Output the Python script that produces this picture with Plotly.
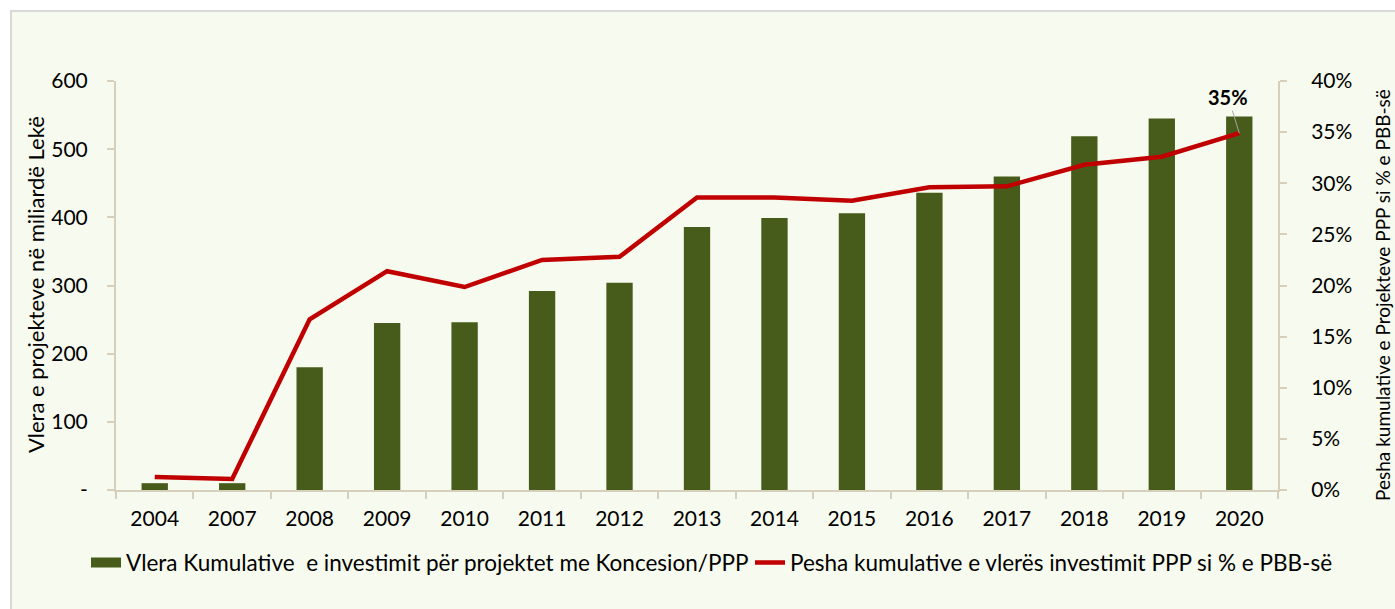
import plotly.graph_objects as go

years = ["2004", "2007", "2008", "2009", "2010", "2011", "2012", "2013",
         "2014", "2015", "2016", "2017", "2018", "2019", "2020"]
cum_value = [10, 10, 180, 245, 246, 292, 304, 386, 399, 406, 436, 460, 519, 545, 548]
pct_gdp = [0.0127, 0.0108, 0.167, 0.214, 0.1985, 0.225, 0.228, 0.286, 0.286,
           0.283, 0.296, 0.297, 0.318, 0.326, 0.349]
left_tickvals = [0, 100, 200, 300, 400, 500, 600]
left_ticktext = ["-", "100", "200", "300", "400", "500", "600"]
right_tickvals = [0, 0.05, 0.10, 0.15, 0.20, 0.25, 0.30, 0.35, 0.40]

bar_name = "Vlera Kumulative  e investimit për projektet me Koncesion/PPP"
line_name = "Pesha kumulative e vlerës investimit PPP si % e PBB-së"
left_title = "Vlera e projekteve në miliardë Lekë"
right_title = "Pesha kumulative e Projekteve PPP si % e PBB-së"

FONT = "Lato, 'Open Sans', sans-serif"
AXIS_COL = "#d6cfbb"
BG = "#f7faee"
BAR_COL = "#475c1b"

L, R, T, B = 116, 117, 81, 119
W, H = 1395, 609
pw, ph = W - L - R, H - T - B

fig = go.Figure()
fig.add_trace(go.Bar(x=years, y=cum_value, name=bar_name,
                     marker=dict(color=BAR_COL, line=dict(width=0)),
                     yaxis="y", showlegend=False))
# legend entry for the bars (wide swatch like the original)
fig.add_trace(go.Scatter(x=[years[0]], y=[None], name=bar_name, mode="lines",
                         line=dict(color=BAR_COL, width=16), yaxis="y",
                         hoverinfo="skip", legend="legend"))
fig.add_trace(go.Scatter(x=years, y=pct_gdp, name=line_name, mode="lines",
                         line=dict(color="#c00000", width=4.5),
                         yaxis="y2", legend="legend2"))

fig.add_annotation(x=len(years) - 1, y=pct_gdp[-1], yref="y2", xref="x",
                   text="<b>35%</b>", showarrow=True, arrowhead=0,
                   arrowwidth=1, arrowcolor="#a6a6a6", ax=-11, ay=-36,
                   font=dict(size=20, color="#000000", family=FONT))

# axis titles
fig.add_annotation(xref="paper", yref="paper", x=(35 - L) / pw, y=0.501,
                   text=left_title, textangle=-90, showarrow=False,
                   xanchor="center", yanchor="middle",
                   font=dict(size=22, family=FONT, color="#000000"))
fig.add_annotation(xref="paper", yref="paper", x=(1383 - L) / pw, y=0.477,
                   text=right_title, textangle=-90, showarrow=False,
                   xanchor="center", yanchor="middle",
                   font=dict(size=19, family=FONT, color="#000000"))

# outer frame / background
fig.add_shape(type="rect", xref="paper", yref="paper",
              x0=(11 - L) / pw, x1=(1400 - L) / pw,
              y0=(H - B - 620) / ph, y1=(H - B - 11) / ph,
              fillcolor=BG, line=dict(color="#d9d9d9", width=2), layer="below")

leg_common = dict(orientation="h", xref="container", xanchor="left",
                  y=-0.178, yanchor="middle", bgcolor="rgba(0,0,0,0)",
                  font=dict(size=22.5, family=FONT, color="#000000"))

fig.update_layout(
    width=W, height=H,
    margin=dict(l=L, r=R, t=T, b=B, pad=0, autoexpand=False),
    paper_bgcolor="white", plot_bgcolor="white",
    font=dict(family=FONT, size=21, color="#000000"),
    bargap=0.66,
    showlegend=True,
    legend=dict(x=86 / W, **leg_common),
    legend2=dict(x=750 / W, **leg_common),
    xaxis=dict(type="category", range=[-0.5, len(years) - 0.5], automargin=False,
               showline=True, linecolor=AXIS_COL, linewidth=2,
               ticks="outside", tickson="boundaries", ticklen=7, tickcolor=AXIS_COL,
               tickwidth=2, showgrid=False, tickangle=0, tickfont=dict(size=21),
               ticklabelstandoff=9),
    yaxis=dict(range=[0, 600], tickvals=left_tickvals, ticktext=left_ticktext,
               automargin=False,
               showline=True, linecolor=AXIS_COL, linewidth=2, ticks="outside",
               ticklen=7, tickcolor=AXIS_COL, tickwidth=2, showgrid=False,
               zeroline=False, ticklabelstandoff=15),
    yaxis2=dict(range=[0, 0.4], tickvals=right_tickvals, tickformat=".0%",
                automargin=False,
                overlaying="y", side="right", showline=True, linecolor=AXIS_COL,
                linewidth=2, ticks="outside", ticklen=7, tickcolor=AXIS_COL,
                tickwidth=2, showgrid=False, zeroline=False, ticklabelstandoff=20),
)

fig.write_html("out.html", config={"displayModeBar": False},
               post_script="document.body.style.margin='0px';document.body.style.padding='0px';")
